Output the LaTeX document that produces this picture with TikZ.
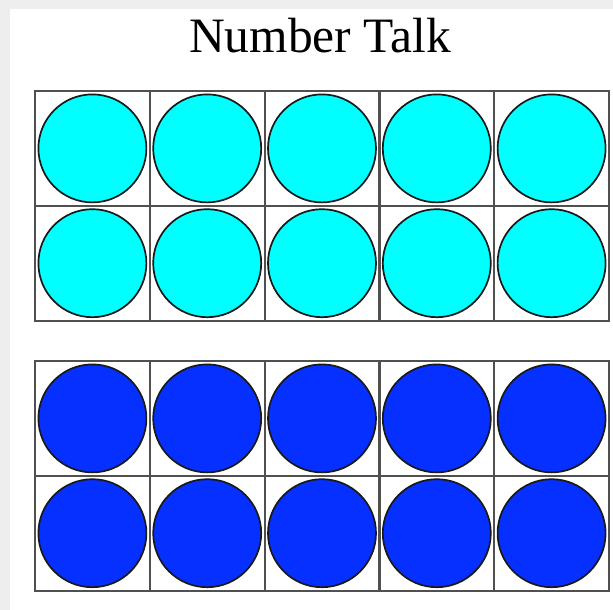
\documentclass[tikz,border=0pt]{standalone}
\usepackage{fontspec}
\setmainfont{Liberation Serif}
\definecolor{bggray}{HTML}{EEEEEE}
\definecolor{gridgray}{HTML}{505050}
\definecolor{lightc}{RGB}{0,255,255}
\definecolor{darkc}{RGB}{5,48,255}
\begin{document}
\begin{tikzpicture}[x=1pt,y=-1pt,
  gridline/.style={draw=gridgray,line width=2.2pt,line cap=rect},
  counter/.style={circle,draw=black!90,line width=1.7pt,minimum size=108pt,inner sep=0pt},
  title/.style={font=\fontsize{49.5}{52}\selectfont,anchor=base}]
\useasboundingbox (0,0) rectangle (613,610);
\fill[bggray] (0,0) rectangle (613,610);
\fill[white] (10,9) rectangle (613,610);
\node[title] (t) at (320,53) {Number Talk};
\foreach \g/\top/\col in {1/91/lightc,2/361/darkc}{
  \draw[gridline] (35,\top) rectangle (609,\top+229.6);
  \draw[gridline] (35,\top+114.8) -- (609,\top+114.8);
  \foreach \c in {1,...,4}{
    \draw[gridline] (35+114.8*\c,\top) -- (35+114.8*\c,\top+229.6);
  }
  \foreach \r in {0,1}{
    \foreach \c in {0,...,4}{
      \node[counter,fill=\col] (c\g-\r-\c) at (35+114.8*\c+57.4,\top+114.8*\r+57.4) {};
    }
  }
}
\end{tikzpicture}
\end{document}
